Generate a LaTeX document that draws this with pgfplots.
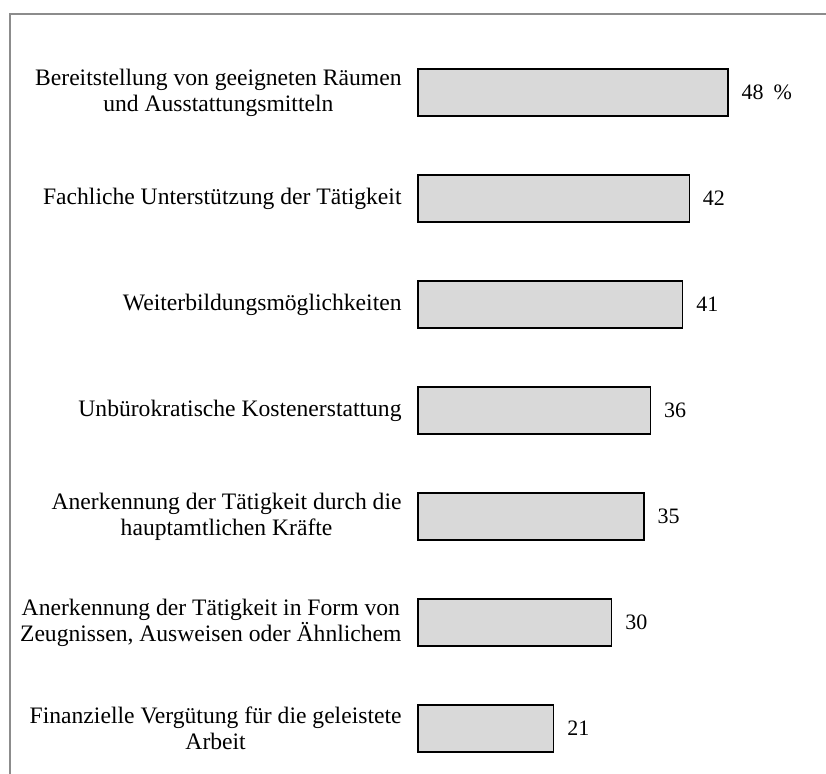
\documentclass[border=0pt]{standalone}
\usepackage{pgfplots}
\pgfplotsset{compat=1.18}
\usepackage{fontspec}
\setmainfont{Liberation Serif}
\definecolor{barfill}{HTML}{D9D9D9}
\definecolor{framegray}{HTML}{8C8C8C}
\begin{document}
\begin{tikzpicture}
\begin{axis}[
  at={(0,0)}, anchor=south west,
  xbar,
  scale only axis,
  width=387.5bp, height=742bp,
  xmin=0, xmax=60,
  ymin=-0.5, ymax=6.5,
  y dir=reverse,
  bar width=47bp,
  axis line style={draw=none},
  tick style={draw=none},
  xtick=\empty,
  ytick={0,1,2,3,4,5,6},
  yticklabels={
    {Bereitstellung von geeigneten Räumen\\und Ausstattungsmitteln},
    {Fachliche Unterstützung der Tätigkeit},
    {Weiterbildungsmöglichkeiten},
    {Unbürokratische Kostenerstattung},
    {Anerkennung der Tätigkeit durch die\\hauptamtlichen Kräfte},
    {Anerkennung der Tätigkeit in Form von\\Zeugnissen, Ausweisen oder Ähnlichem},
    {Finanzielle Vergütung für die geleistete\\Arbeit}
  },
  yticklabel style={align=center, anchor=east, inner sep=0pt, xshift=-12bp,
    font=\fontsize{23.6bp}{26bp}\selectfont},
  point meta=explicit symbolic,
  nodes near coords,
  nodes near coords style={anchor=west, inner sep=0pt, xshift=13bp,
    font=\fontsize{22bp}{26bp}\selectfont, black},
  clip=false,
]
\addplot[draw=black, line width=1.3bp, fill=barfill] coordinates {
  (48,0) [48\hspace{0.45em}\%]
  (42,1) [42]
  (41,2) [41]
  (36,3) [36]
  (35,4) [35]
  (30,5) [30]
  (21,6) [21]
};
\end{axis}
\draw[framegray, line width=2bp] (-408bp,7.5bp) -- (-408bp,767.5bp) -- (408bp,767.5bp);
\pgfresetboundingbox
\useasboundingbox (-418bp,7.5bp) rectangle (408bp,781.5bp);
\end{tikzpicture}
\end{document}
